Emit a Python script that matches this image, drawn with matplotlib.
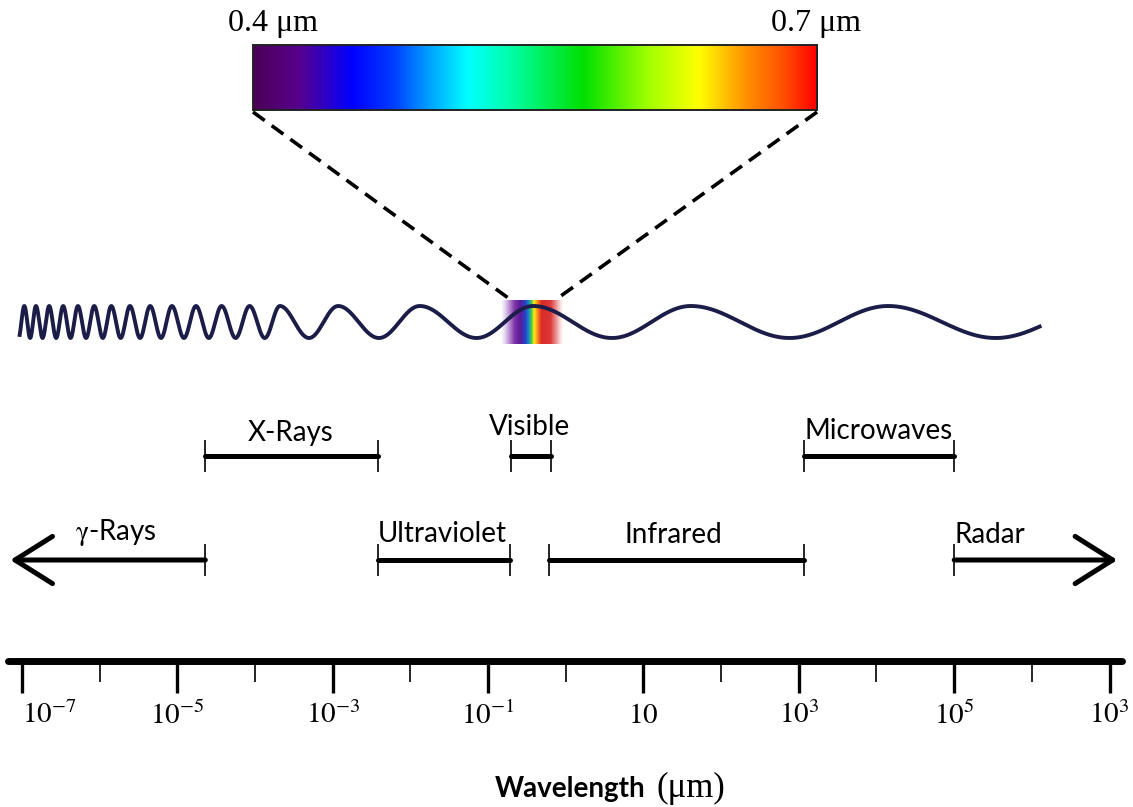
import numpy as np
import matplotlib.pyplot as plt
from matplotlib.colors import LinearSegmentedColormap
from matplotlib.patches import Rectangle, FancyArrowPatch, ArrowStyle

plt.rcParams['mathtext.fontset'] = 'stix'

# x positions are log10 of the wavelength in micrometres
tick_exp = [-7, -5, -3, -1, 1, 3, 5, 7]
tick_labels = [r'$10^{-7}$', r'$10^{-5}$', r'$10^{-3}$', r'$10^{-1}$', r'$10$',
               r'$10^{3}$', r'$10^{5}$', r'$10^{3}$']
minor_exp = [-6, -4, -2, 0, 2, 4, 6]

band_names = ['X-Rays', 'Visible', 'Microwaves',
              r'$\mathrm{\gamma}$-Rays', 'Ultraviolet', 'Infrared', 'Radar']
band_start = [-4.64, -0.71, 3.07, -4.64, -2.42, -0.22, 5.00]
band_end = [-2.42, -0.19, 5.00, -7.15, -0.72, 3.07, 7.10]
band_arrow = [False, False, False, True, False, False, True]

# visible range shown in the colour bar
vis_lo, vis_hi = '0.4 \u03bcm', '0.7 \u03bcm'

# crest positions of the drawn wave (same log10 units)
wave_peaks = [-7.12, -6.97, -6.82, -6.65, -6.47, -6.28, -6.07, -5.85, -5.61,
              -5.35, -5.07, -4.76, -4.43, -4.07, -3.68, -2.93, -1.88, -0.42,
              1.61, 4.15, 6.92]

# layout (y grows downward, roughly in pixels)
row_y = [456, 560]
band_row = [0, 0, 0, 1, 1, 1, 1]
label_x = [-3.54, -0.46, 4.03, -5.79, -1.59, 1.38, 5.46]
label_y = [441, 435, 439, 540, 542, 543, 543]

fig = plt.figure(figsize=(11.33, 8.07), dpi=100)
ax = fig.add_axes([0, 0, 1, 1])
ax.set_xlim(-7.283, 7.302)
ax.set_ylim(807, 0)

# wavelength scale drawn with the bottom spine
for s in ['left', 'right', 'top']:
    ax.spines[s].set_visible(False)
ax.spines['bottom'].set_position(('data', 661))
ax.spines['bottom'].set_bounds(-7.18, 7.16)
ax.spines['bottom'].set_linewidth(5)
ax.spines['bottom'].set_capstyle('round')
ax.set_yticks([])
ax.set_xticks(tick_exp, tick_labels)
ax.set_xticks(minor_exp, minor=True)
ax.tick_params(axis='x', which='major', direction='out', length=23, width=2.4,
               pad=6, labelsize=21, colors='black')
ax.tick_params(axis='x', which='minor', direction='out', length=15, width=1.2)
ax.get_xticklabels()[0].set_ha('left')

fig.text(0.570, 0.013, 'Wavelength', ha='right', va='baseline', fontsize=20,
         fontweight='bold', family=['Lato', 'DejaVu Sans'])
fig.text(0.579, 0.013, '(\u03bcm)', ha='left', va='baseline', fontsize=25,
         family='Liberation Serif')

# spectrum bands
for i, name in enumerate(band_names):
    y = row_y[band_row[i]]
    if band_arrow[i]:
        arr = FancyArrowPatch((band_start[i], y), (band_end[i], y),
                              arrowstyle=ArrowStyle('->', head_length=27, head_width=17),
                              mutation_scale=1, lw=3.6, color='black',
                              shrinkA=0, shrinkB=0, capstyle='round', joinstyle='round')
        ax.add_patch(arr)
        ax.vlines(band_start[i], y - 16, y + 16, color='black', lw=1.2)
    else:
        ax.plot([band_start[i], band_end[i]], [y, y], color='black', lw=3.6,
                solid_capstyle='round')
        ax.vlines([band_start[i], band_end[i]], y - 16, y + 16, color='black', lw=1.2)
    ax.text(label_x[i], label_y[i], name, ha='center', va='baseline', fontsize=20,
            family=['Lato', 'DejaVu Sans'])

# wave with decreasing frequency
xs = np.linspace(-7.03, 6.10, 4000)
phase = np.interp(xs, wave_peaks, np.arange(len(wave_peaks)) * 2 * np.pi)
ax.plot(xs, 322 - 16 * np.cos(phase), color='#1c1c48', lw=2.8, zorder=4)

# small rainbow patch behind the wave crest
patch_cmap = LinearSegmentedColormap.from_list('patch', [
    (0.00, (0.86, 0.80, 0.93, 0.25)),
    (0.10, (0.74, 0.58, 0.84, 0.90)),
    (0.20, (0.50, 0.22, 0.66, 1.0)),
    (0.30, (0.36, 0.10, 0.60, 1.0)),
    (0.38, (0.15, 0.25, 0.78, 1.0)),
    (0.44, (0.10, 0.55, 0.80, 1.0)),
    (0.48, (0.25, 0.78, 0.30, 1.0)),
    (0.53, (1.00, 0.93, 0.10, 1.0)),
    (0.58, (1.00, 0.55, 0.10, 1.0)),
    (0.65, (0.86, 0.16, 0.16, 1.0)),
    (0.80, (0.86, 0.22, 0.22, 1.0)),
    (0.90, (0.93, 0.56, 0.56, 0.9)),
    (1.00, (0.97, 0.86, 0.86, 0.25))])
grad = np.linspace(0, 1, 256)[None, :]
ax.imshow(grad, cmap=patch_cmap, extent=[-0.82, -0.04, 344, 300], aspect='auto',
          interpolation='bilinear', zorder=2)

# colour bar for the visible range
bar_cmap = LinearSegmentedColormap.from_list('visible', [
    (0.00, '#4b0055'), (0.08, '#58008e'), (0.175, '#0000ff'), (0.25, '#0040ff'),
    (0.31, '#00a0ff'), (0.38, '#00ffff'), (0.45, '#00ffb0'), (0.585, '#00e000'),
    (0.70, '#a0ff00'), (0.79, '#ffff00'), (0.875, '#ff9000'), (0.94, '#ff5000'),
    (1.00, '#ff0000')])
bx0, bx1 = -4.026, 3.235
ax.imshow(grad, cmap=bar_cmap, extent=[bx0, bx1, 110, 45], aspect='auto',
          interpolation='bilinear', zorder=2)
ax.add_patch(Rectangle((bx0, 45), bx1 - bx0, 65, fill=False, edgecolor='#222222',
                       lw=1.4, zorder=3))
ax.text(bx0 - 0.32, 31, vis_lo, ha='left', va='baseline', fontsize=23,
        family='Liberation Serif')
ax.text(bx1 + 0.56, 31, vis_hi, ha='right', va='baseline', fontsize=23,
        family='Liberation Serif')

# dashed zoom lines down to the wave
ax.plot([bx0, -0.74], [112, 298], color='black', lw=2.6, ls=(0, (4, 2.4)), zorder=3)
ax.plot([bx1, -0.10], [112, 298], color='black', lw=2.6, ls=(0, (4, 2.4)), zorder=3)

fig.savefig('out.png', dpi=100, facecolor='white')
